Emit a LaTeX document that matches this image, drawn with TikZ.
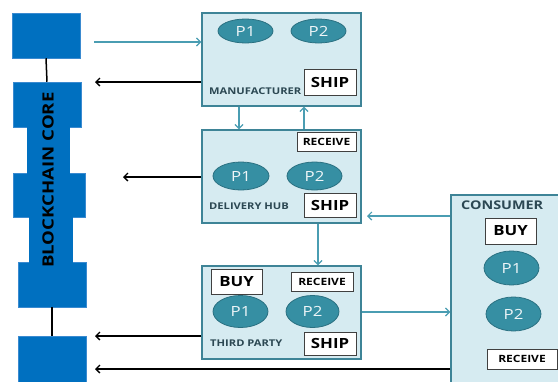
\documentclass[tikz,border=0pt]{standalone}
\usepackage{fontspec}
\setmainfont{Open Sans}
\newfontfamily\widesans[FakeStretch=1.2]{Open Sans}
\usetikzlibrary{arrows.meta,shapes.geometric}
\definecolor{chain}{HTML}{0070C0}
\definecolor{chainedge}{HTML}{3A8AD0}
\definecolor{panel}{HTML}{D6EBF1}
\definecolor{panelline}{HTML}{3E8497}
\definecolor{pill}{HTML}{368FA3}
\definecolor{pillline}{HTML}{2A7081}
\definecolor{flow}{HTML}{4A9DB2}
\definecolor{caption}{HTML}{2C4853}
\tikzset{
  block/.style={rectangle, fill=chain, draw=chainedge, line width=0.5pt, inner sep=0pt},
  panelbox/.style={rectangle, draw=panelline, fill=panel, line width=1.4pt, inner sep=0pt},
  pnode/.style={ellipse, draw=pillline, fill=pill, line width=0.8pt, text=white!92!pill, inner sep=0pt,
    font=\widesans\fontsize{14}{14}\selectfont},
  tagbox/.style={rectangle, draw=black!75, fill=white, line width=0.9pt, inner sep=0pt,
    font=\widesans\bfseries\fontsize{14}{14}\selectfont},
  smalltag/.style={tagbox, font=\widesans\bfseries\fontsize{10}{10}\selectfont},
  caption/.style={anchor=west, inner sep=0pt, text=caption, font=\widesans\bfseries\fontsize{9.3}{9.3}\selectfont},
  flowarrow/.style={draw=flow, line width=1.2pt, -{Straight Barb[length=4pt,width=8pt]}},
  backarrow/.style={draw=black, line width=1.3pt, -{Straight Barb[length=4pt,width=8pt]}},
  link/.style={draw=black, line width=1.5pt}
}
\begin{document}
\begin{tikzpicture}[x=1pt,y=-1pt]
\useasboundingbox (0,0) rectangle (558,381);
\clip (0,0) rectangle (558,381);

% blockchain core: blocks, narrow joints and links
\node[block, minimum width=68pt, minimum height=45pt] (b1) at (46,35.5) {};
\node[block, minimum width=68pt, minimum height=45pt] (b2) at (47,104.5) {};
\node[block, minimum width=72pt, minimum height=44pt] (b3) at (49,195) {};
\node[block, minimum width=68pt, minimum height=45pt] (b4) at (52,284.5) {};
\node[block, minimum width=68pt, minimum height=50pt] (b5) at (52,361) {};
\fill[chain] (26.5,126) rectangle (69.5,174);
\fill[chain] (28.5,216) rectangle (72.5,263);
\draw[link] (b1.south) -- (b2.north);
\draw[link] (b4.south) -- (b5.north);
\node[rotate=90, font=\widesans\bfseries\fontsize{15.5}{15.5}\selectfont] (core) at (48,180) {BLOCKCHAIN CORE};

% manufacturer
\node[panelbox, minimum width=159pt, minimum height=93pt] (mfr) at (281.5,59.5) {};
\node[pnode, minimum width=55pt, minimum height=24pt] (mp1) at (245.5,31) {P1};
\node[pnode, minimum width=55pt, minimum height=24pt] (mp2) at (318.5,31) {P2};
\node[tagbox, minimum width=52pt, minimum height=26pt] (mship) at (330,82) {SHIP};
\node[caption] (mlabel) at (209,91) {MANUFACTURER};

% delivery hub
\node[panelbox, minimum width=159pt, minimum height=93pt] (hub) at (281.5,176.5) {};
\node[smalltag, minimum width=59pt, minimum height=19pt] (hrec) at (326.5,141.5) {RECEIVE};
\node[pnode, minimum width=56pt, minimum height=28pt] (hp1) at (241,176) {P1};
\node[pnode, minimum width=55pt, minimum height=28pt] (hp2) at (314.5,176) {P2};
\node[tagbox, minimum width=52pt, minimum height=24pt] (hship) at (330,205) {SHIP};
\node[caption] (hlabel) at (209,206) {DELIVERY HUB};

% third party
\node[panelbox, minimum width=159pt, minimum height=93pt] (tp) at (281.5,312.5) {};
\node[tagbox, minimum width=51pt, minimum height=25pt] (tbuy) at (236.5,281.5) {BUY};
\node[smalltag, minimum width=62pt, minimum height=19pt] (trec) at (322,281.5) {RECEIVE};
\node[pnode, minimum width=55pt, minimum height=32pt] (tp1) at (240.5,311.5) {P1};
\node[pnode, minimum width=53pt, minimum height=32pt] (tp2) at (312.5,311.5) {P2};
\node[tagbox, minimum width=52pt, minimum height=23pt] (tship) at (330,343.5) {SHIP};
\node[caption] (tlabel) at (210,343) {THIRD PARTY};

% consumer (runs past the right and bottom edges)
\node[panelbox, minimum width=129pt, minimum height=205pt] (con) at (515.5,297.5) {};
\node[caption, font=\widesans\bfseries\fontsize{12}{12}\selectfont] (clabel) at (461,205) {CONSUMER};
\node[tagbox, minimum width=51pt, minimum height=26pt] (cbuy) at (510.5,231) {BUY};
\node[pnode, minimum width=55pt, minimum height=34pt] (cp1) at (511.5,268) {P1};
\node[pnode, minimum width=55pt, minimum height=34pt] (cp2) at (513.5,314) {P2};
\node[smalltag, minimum width=70pt, minimum height=20pt] (crec) at (522,359) {RECEIVE};

% free ends of the connectors beside the chain
\coordinate (in1) at (94,42);
\coordinate (out1) at (95,82);
\coordinate (out2) at (123,177);
\coordinate (out3) at (95,336);
\coordinate (out4) at (95,369);
\coordinate (hubin) at (367,216);
\coordinate (dn) at (239,0);
\coordinate (up) at (304,0);
\coordinate (dn2) at (318,0);
\coordinate (side) at (0,312);

% connectors
\draw[flowarrow] (in1) -- (in1 -| mfr.west);
\draw[backarrow] (out1 -| mfr.west) -- (out1);
\draw[flowarrow] (dn |- mfr.south) -- (dn |- hub.north);
\draw[flowarrow] (up |- hub.north) -- (up |- mfr.south);
\draw[backarrow] (out2 -| hub.west) -- (out2);
\draw[flowarrow] (hubin -| con.west) -- (hubin);
\draw[flowarrow] (dn2 |- hub.south) -- (dn2 |- tp.north);
\draw[backarrow] (out3 -| tp.west) -- (out3);
\draw[flowarrow] (side -| tp.east) -- (side -| con.west);
\draw[backarrow] (out4 -| con.west) -- (out4);
\end{tikzpicture}
\end{document}
